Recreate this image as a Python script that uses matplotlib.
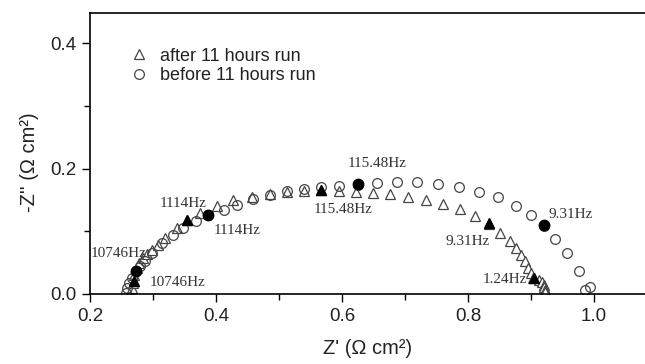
import matplotlib
matplotlib.use("Agg")
import matplotlib.pyplot as plt

# after 11 hours run (open triangles), high -> low frequency
after_x = [0.263, 0.266, 0.269, 0.270, 0.274, 0.278, 0.284, 0.290, 0.298, 0.308,
           0.319, 0.338, 0.354, 0.375, 0.401, 0.427, 0.457, 0.485, 0.512, 0.539,
           0.567, 0.595, 0.623, 0.650, 0.677, 0.704, 0.733, 0.760, 0.787, 0.811,
           0.833, 0.851, 0.866, 0.877, 0.884, 0.890, 0.895, 0.900, 0.904, 0.912,
           0.917, 0.920, 0.921, 0.922, 0.922]
after_y = [0.001, 0.009, 0.018, 0.030, 0.041, 0.049, 0.057, 0.064, 0.070, 0.078,
           0.089, 0.105, 0.118, 0.129, 0.140, 0.150, 0.155, 0.159, 0.163, 0.165,
           0.166, 0.165, 0.163, 0.161, 0.159, 0.155, 0.150, 0.144, 0.135, 0.124,
           0.112, 0.098, 0.085, 0.073, 0.062, 0.052, 0.041, 0.033, 0.026, 0.022,
           0.019, 0.015, 0.011, 0.007, 0.003]

# before 11 hours run (open circles)
before_x = [0.257, 0.259, 0.262, 0.266, 0.273, 0.279, 0.287, 0.298, 0.314, 0.332,
            0.348, 0.369, 0.388, 0.412, 0.433, 0.459, 0.486, 0.513, 0.540, 0.567,
            0.596, 0.626, 0.656, 0.687, 0.719, 0.753, 0.786, 0.818, 0.848, 0.876,
            0.900, 0.920, 0.938, 0.957, 0.977, 0.993, 0.986]
before_y = [0.001, 0.009, 0.017, 0.025, 0.036, 0.044, 0.052, 0.065, 0.081, 0.094,
            0.105, 0.117, 0.126, 0.134, 0.142, 0.152, 0.158, 0.164, 0.167, 0.170,
            0.172, 0.174, 0.177, 0.178, 0.178, 0.175, 0.171, 0.163, 0.154, 0.141,
            0.126, 0.109, 0.087, 0.065, 0.036, 0.011, 0.006]

# highlighted frequencies (filled markers) and their labels
after_mark_x = [0.270, 0.354, 0.567, 0.833, 0.905]
after_mark_y = [0.020, 0.118, 0.166, 0.113, 0.026]
after_labels = ["10746Hz", "1114Hz", "115.48Hz", "9.31Hz", "1.24Hz"]
after_label_x = [0.339, 0.348, 0.602, 0.800, 0.858]
after_label_y = [0.018, 0.145, 0.134, 0.083, 0.023]

before_mark_x = [0.273, 0.388, 0.626, 0.920]
before_mark_y = [0.037, 0.126, 0.175, 0.110]
before_labels = ["10746Hz", "1114Hz", "115.48Hz", "9.31Hz"]
before_label_x = [0.246, 0.434, 0.655, 0.963]
before_label_y = [0.064, 0.102, 0.208, 0.127]

sans = ["Liberation Sans", "DejaVu Sans"]
serif = ["Liberation Serif", "DejaVu Serif"]

fig = plt.figure(figsize=(6.45, 3.64), dpi=100)
ax = fig.add_axes([90 / 645, 70 / 364, 555 / 645, 281 / 364])

ax.plot(after_x, after_y, linestyle="none", marker="^", ms=7, mfc="white",
        mec="#444444", mew=0.9, label="after 11 hours run")
ax.plot(before_x, before_y, linestyle="none", marker="o", ms=7, mfc="none",
        mec="#444444", mew=0.9, label="before 11 hours run")
ax.plot(after_mark_x, after_mark_y, linestyle="none", marker="^", ms=7.5,
        color="black")
ax.plot(before_mark_x, before_mark_y, linestyle="none", marker="o", ms=7.5,
        color="black")

for lx, ly, t in zip(after_label_x, after_label_y, after_labels):
    ax.text(lx, ly, t, ha="center", va="center", fontsize=11,
            family=serif, color="#333333")
for lx, ly, t in zip(before_label_x, before_label_y, before_labels):
    ax.text(lx, ly, t, ha="center", va="center", fontsize=11,
            family=serif, color="#333333")

ax.set_xlim(0.2, 1.081)
ax.set_ylim(0.0, 0.448)
ax.set_xticks([0.2, 0.4, 0.6, 0.8, 1.0])
ax.set_xticks([0.3, 0.5, 0.7, 0.9], minor=True)
ax.set_yticks([0.0, 0.2, 0.4])
ax.set_yticks([0.1, 0.3], minor=True)
ax.tick_params(which="major", direction="out", length=6, width=1,
               labelsize=13.5, pad=4, labelcolor="#222222")
ax.tick_params(which="minor", direction="out", length=4, width=1)
for lab in ax.get_xticklabels() + ax.get_yticklabels():
    lab.set_family(sans)

ax.spines["right"].set_visible(False)
for s in ["left", "bottom", "top"]:
    ax.spines[s].set_linewidth(1.2)

ax.set_xlabel("Z' (\u03a9 cm\u00b2)", fontsize=14.5, family=sans,
              labelpad=10, color="#222222")
ax.set_ylabel("-Z'' (\u03a9 cm\u00b2)", fontsize=14.5, family=sans, y=0.47,
              labelpad=8, color="#222222")

leg = ax.legend(loc="upper left", bbox_to_anchor=(0.039, 0.935), frameon=False,
                handletextpad=0.6, labelspacing=0.15, handlelength=1.2,
                prop={"family": sans, "size": 13})
for t in leg.get_texts():
    t.set_color("#222222")

fig.savefig("out.png", dpi=100)
